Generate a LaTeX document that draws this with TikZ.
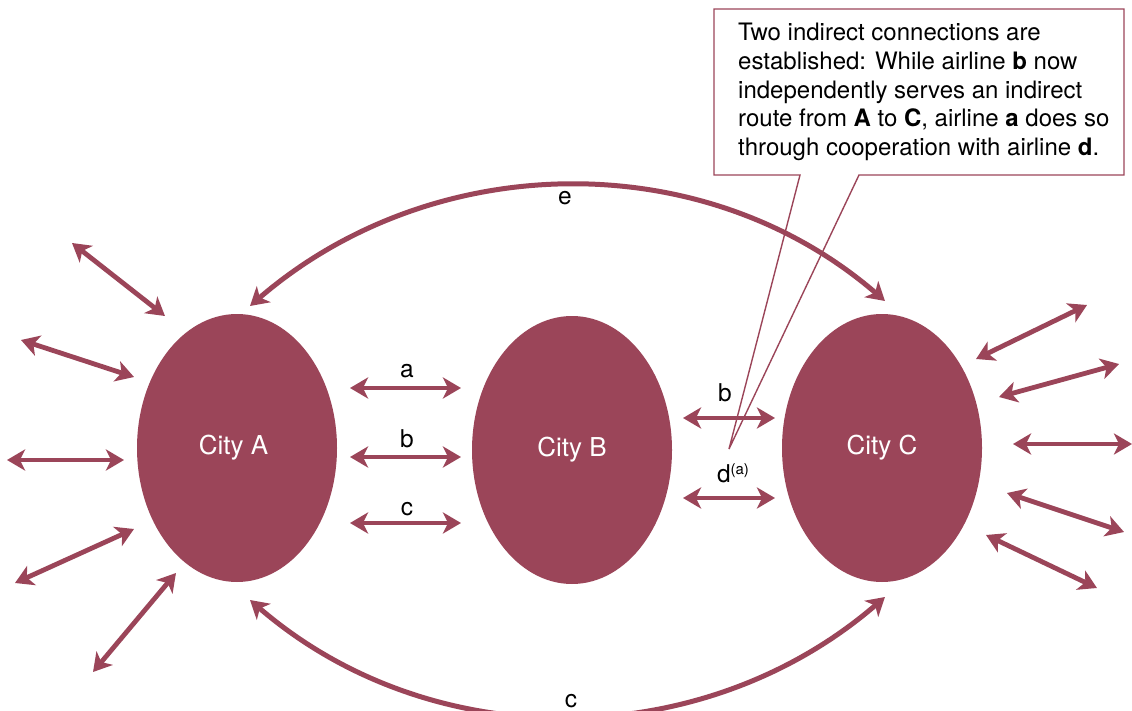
\documentclass[tikz,border=0pt]{standalone}
\usepackage{fontspec}
\setmainfont{TeX Gyre Heros}
\usetikzlibrary{arrows.meta,shapes.geometric}
\definecolor{wine}{RGB}{155,69,89}
\begin{document}
\begin{tikzpicture}[x=1pt,y=-1pt,
  city/.style={ellipse, fill=wine, draw=none, minimum width=200pt, minimum height=268pt, text=white, font=\fontsize{26}{30}\selectfont, inner sep=0pt},
  link/.style={wine, line width=4.8pt, {Stealth[length=18pt,width=21pt,inset=5pt]}-{Stealth[length=18pt,width=21pt,inset=5pt]}},
  bigarc/.style={link, line width=5pt},
  lbl/.style={font=\fontsize{24.5}{28}\selectfont, anchor=base, inner sep=0pt},
  callout/.style={wine, line width=1.4pt, line join=miter}]
\useasboundingbox (0,0) rectangle (1132,711);

% cities
\node[city] (A) at (237,448) {\hspace*{-7pt}\raisebox{4pt}{City A}};
\node[city] (B) at (572,450) {\raisebox{5pt}{City B}};
\node[city] (C) at (882,448) {\raisebox{4pt}{City C}};

% A-B links
\coordinate (ab1l) at (350,388); \coordinate (ab1r) at (461,388);
\coordinate (ab2l) at (350,457); \coordinate (ab2r) at (461,457);
\coordinate (ab3l) at (350,523); \coordinate (ab3r) at (461,523);
\draw[link] (ab1l) -- (ab1r);
\draw[link] (ab2l) -- (ab2r);
\draw[link] (ab3l) -- (ab3r);
\node[lbl] (la) at (407,377) {a};
\node[lbl] (lb) at (407,447) {b};
\node[lbl] (lc) at (407,515) {c};

% B-C links
\coordinate (bc1l) at (683,418); \coordinate (bc1r) at (775,418);
\coordinate (bc2l) at (683,498); \coordinate (bc2r) at (775,498);
\draw[link] (bc1l) -- (bc1r);
\draw[link] (bc2l) -- (bc2r);
\node[lbl] (lb2) at (725,401) {b};
\node[lbl] (ld) at (733,482) {d\raisebox{8pt}{\fontsize{15}{15}\selectfont(a)}};

% big arcs
\coordinate (eL) at (250,306); \coordinate (eR) at (885,301);
\coordinate (cL) at (250,600); \coordinate (cR) at (885,597);
\draw[bigarc] (eL) .. controls +(182,-157) and +(-182,-157) .. (eR);
\draw[bigarc] (cL) .. controls +(182,157) and +(-182,157) .. (cR);
\node[lbl] (le) at (565,205) {e};
\node[lbl] (lc2) at (571,707) {c};

% radiating links A
\coordinate (a1o) at (72,243);  \coordinate (a1i) at (165,316);
\coordinate (a2o) at (21,340);  \coordinate (a2i) at (134,377);
\coordinate (a3o) at (7,460);   \coordinate (a3i) at (124,460);
\coordinate (a4o) at (15,583);  \coordinate (a4i) at (134,529);
\coordinate (a5o) at (93,672);  \coordinate (a5i) at (176,573);
\foreach \k in {1,...,5} \draw[link] (a\k o) -- (a\k i);

% radiating links C
\coordinate (c1i) at (976,359);  \coordinate (c1o) at (1087,305);
\coordinate (c2i) at (999,397);  \coordinate (c2o) at (1119,364);
\coordinate (c3i) at (1013,444); \coordinate (c3o) at (1132,444);
\coordinate (c4i) at (1007,493); \coordinate (c4o) at (1124,532);
\coordinate (c5i) at (986,535);  \coordinate (c5o) at (1097,588);
\foreach \k in {1,...,5} \draw[link] (c\k i) -- (c\k o);

% callout
\coordinate (tip) at (729,449);
\draw[callout] (714,175) -- (714,9) -- (1124,9) -- (1124,175) -- (859,175) -- (tip) -- (800,175) -- cycle;
\node[anchor=north west, inner sep=0pt, align=left, font=\fontsize{24}{28.75}\selectfont] (note) at (738,23)
 {Two indirect connections are\\
  established: While airline \textbf{b} now\\
  independently serves an indirect\\
  route from \textbf{A} to \textbf{C}, airline \textbf{a} does so\\
  through cooperation with airline \textbf{d}.};
\end{tikzpicture}
\end{document}
